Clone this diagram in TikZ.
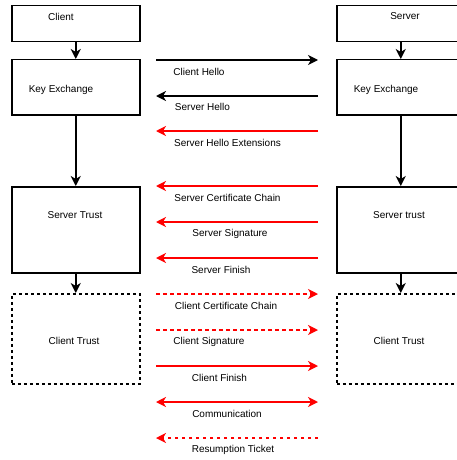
\documentclass[tikz,border=0pt]{standalone}
\usepackage{fontspec}
\setmainfont{Liberation Sans}
\usetikzlibrary{arrows.meta}
\begin{document}
\begin{tikzpicture}[x=1pt,y=-1pt,
  box/.style={draw, line width=1.5pt, anchor=north west, inner sep=0pt, minimum width=128pt},
  dbox/.style={box, dash pattern=on 3pt off 3pt},
  txt/.style={font=\fontsize{10}{12}\selectfont, inner sep=0pt},
  arr/.style={line width=1.5pt, -{Stealth[length=10pt,width=10pt,inset=3pt]}},
  msg/.style={line width=1.5pt, -{Stealth[length=10pt,width=10pt,inset=3pt]}},
  bmsg/.style={line width=1.5pt, {Stealth[length=10pt,width=10pt,inset=3pt]}-{Stealth[length=10pt,width=10pt,inset=3pt]}},
  dsh/.style={dash pattern=on 3.5pt off 3.5pt}
]
\useasboundingbox (0,0) rectangle (457,460);
\begin{scope}
\clip (0,0) rectangle (457,460);
% left column
\node[box, minimum height=36pt] (cl) at (11,5) {};
\node[box, minimum height=55pt] (ckx) at (11,59) {};
\node[box, minimum height=86pt] (cst) at (11,186) {};
\node[dbox, minimum height=90pt] (cct) at (11,293) {};
% right column
\node[box, minimum height=36pt] (sv) at (336,5) {};
\node[box, minimum height=55pt] (skx) at (336,59) {};
\node[box, minimum height=86pt] (sst) at (336,186) {};
\node[dbox, minimum height=90pt] (sct) at (336,293) {};
\end{scope}
% box texts
\node[txt] (tcl) at (61,16.5) {Client};
\node[txt] (tckx) at (61,90) {Key Exchange};
\node[txt] (tcst) at (75,215) {Server Trust};
\node[txt] (tcct) at (74,341) {Client Trust};
\node[txt] (tsv) at (405,16.5) {Server};
\node[txt] (tskx) at (386,90) {Key Exchange};
\node[txt] (tsst) at (399,215) {Server trust};
\node[txt] (tsct) at (399,341) {Client Trust};
% vertical arrows
\draw[arr] (cl.south) -- (ckx.north);
\draw[arr] (ckx.south) -- (cst.north);
\draw[arr] (cst.south) -- (cct.north);
\draw[arr] (sv.south) -- (skx.north);
\draw[arr] (skx.south) -- (sst.north);
\draw[arr] (sst.south) -- (sct.north);
% message end points
\foreach \n/\y in {1/60,2/96,3/131,4/186,5/222,6/258,7/294,8/330,9/366,10/402,11/438}{
  \coordinate (L\n) at (156,\y);
  \coordinate (R\n) at (318,\y);
}
\draw[msg] (L1) -- (R1);
\draw[msg] (R2) -- (L2);
\draw[msg, red] (R3) -- (L3);
\draw[msg, red] (R4) -- (L4);
\draw[msg, red] (R5) -- (L5);
\draw[msg, red] (R6) -- (L6);
\draw[msg, red, dsh] (L7) -- (R7);
\draw[msg, red, dsh] (L8) -- (R8);
\draw[msg, red] (L9) -- (R9);
\draw[bmsg, red] (L10) -- (R10);
\draw[msg, red, dsh] (R11) -- (L11);
% labels
\node[txt] (m1) at (199,72) {Client Hello};
\node[txt] (m2) at (202.5,107) {Server Hello};
\node[txt] (m3) at (227.5,143) {Server Hello Extensions};
\node[txt] (m4) at (227.5,197.5) {Server Certificate Chain};
\node[txt] (m5) at (230,233.5) {Server Signature};
\node[txt] (m6) at (221,269.5) {Server Finish};
\node[txt] (m7) at (226,306) {Client Certificate Chain};
\node[txt] (m8) at (209,342) {Client Signature};
\node[txt] (m9) at (219.5,378) {Client Finish};
\node[txt] (m10) at (227,414) {Communication};
\node[txt] (m11) at (233,450) {Resumption Ticket};
\end{tikzpicture}
\end{document}
